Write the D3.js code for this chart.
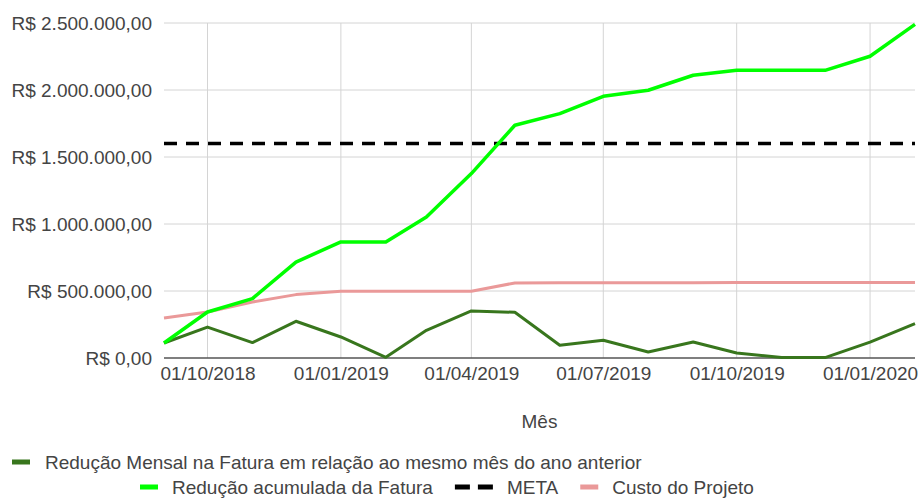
<!DOCTYPE html>
<html>
<head>
<meta charset="utf-8">
<script src="https://cdn.jsdelivr.net/npm/d3@7"></script>
<style>
  body { margin: 0; background: #fff; }
  svg { font-family: "Liberation Sans", Arial, sans-serif; }
</style>
</head>
<body>
<div id="chart"></div>
<script>
var months = ["2018-09-01", "2018-10-01", "2018-11-01", "2018-12-01", "2019-01-01", "2019-02-01",
              "2019-03-01", "2019-04-01", "2019-05-01", "2019-06-01", "2019-07-01", "2019-08-01",
              "2019-09-01", "2019-10-01", "2019-11-01", "2019-12-01", "2020-01-01", "2020-02-01"];
var mensal = [112000, 231000, 115000, 274000, 157000, 5000, 207000, 351000, 341000, 95000,
              132000, 45000, 119000, 37000, 3000, 3000, 119000, 257000];
var acumulada = [112000, 343000, 443000, 716000, 866000, 866000, 1052000, 1376000, 1737000, 1824000,
                 1953000, 1998000, 2110000, 2147000, 2147000, 2147000, 2252000, 2490000];
var meta = 1600000;
var custo = [298000, 343000, 418000, 473000, 498000, 498000, 498000, 498000, 560000, 561000,
             561000, 562000, 562000, 563000, 563000, 563000, 563000, 563000];
var yTicks = [0, 500000, 1000000, 1500000, 2000000, 2500000];
var xTicks = ["2018-10-01", "2019-01-01", "2019-04-01", "2019-07-01", "2019-10-01", "2020-01-01"];
var seriesNames = ["Redução Mensal na Fatura em relação ao mesmo mês do ano anterior",
                   "Redução acumulada da Fatura", "META", "Custo do Projeto"];
var colors = ["#38761d", "#00ff00", "#000000", "#ea9999"];

var W = 918, H = 499;
var margin = { top: 23, right: 3, bottom: 141, left: 164 };
var fontSize = "19px";

var parse = d3.timeParse("%Y-%m-%d");
var dates = months.map(parse);

var br = d3.formatLocale({ decimal: ",", thousands: ".", grouping: [3], currency: ["R$ ", ""] });
var money = br.format("$,.2f");

var svg = d3.select("#chart").append("svg").attr("width", W).attr("height", H);

var x = d3.scaleTime().domain(d3.extent(dates)).range([margin.left, W - margin.right]);
var y = d3.scaleLinear().domain([0, 2500000]).range([H - margin.bottom, margin.top]);

// grid
svg.append("g").attr("class", "grid")
  .selectAll("line.h").data(yTicks.slice(1)).enter().append("line")
  .attr("x1", margin.left).attr("x2", W - margin.right)
  .attr("y1", function (d) { return y(d); }).attr("y2", function (d) { return y(d); })
  .attr("stroke", "#d4d4d4").attr("stroke-width", 1);
svg.append("g").attr("class", "grid")
  .selectAll("line.v").data(xTicks.map(parse)).enter().append("line")
  .attr("x1", function (d) { return x(d); }).attr("x2", function (d) { return x(d); })
  .attr("y1", margin.top).attr("y2", H - margin.bottom)
  .attr("stroke", "#d4d4d4").attr("stroke-width", 1);

// axes
var yAxis = d3.axisLeft(y).tickValues(yTicks).tickFormat(money).tickSize(0).tickPadding(12);
svg.append("g").attr("transform", "translate(" + margin.left + ",0)").call(yAxis)
  .call(function (g) { g.select(".domain").remove(); })
  .selectAll("text").attr("font-size", fontSize).attr("fill", "#444").attr("font-family", "Liberation Sans, Arial, sans-serif");

var xAxis = d3.axisBottom(x).tickValues(xTicks.map(parse)).tickFormat(d3.timeFormat("%d/%m/%Y")).tickSize(0).tickPadding(9);
svg.append("g").attr("transform", "translate(0," + (H - margin.bottom) + ")").call(xAxis)
  .call(function (g) { g.select(".domain").remove(); })
  .selectAll("text").attr("font-size", fontSize).attr("fill", "#444").attr("font-family", "Liberation Sans, Arial, sans-serif");

svg.append("line")
  .attr("x1", margin.left).attr("x2", W - margin.right)
  .attr("y1", y(0)).attr("y2", y(0))
  .attr("stroke", "#555").attr("stroke-width", 1.5);

svg.append("text").text("Mês")
  .attr("x", (margin.left + W - margin.right) / 2).attr("y", 428)
  .attr("text-anchor", "middle").attr("font-size", fontSize).attr("fill", "#444");

// lines
var line = d3.line()
  .x(function (d) { return x(d.date); })
  .y(function (d) { return y(d.value); });

function toPts(arr) {
  return arr.map(function (v, i) { return { date: dates[i], value: v }; });
}

svg.append("path").datum(toPts(custo)).attr("d", line)
  .attr("fill", "none").attr("stroke", colors[3]).attr("stroke-width", 3).attr("stroke-linejoin", "round");

svg.append("path").datum(toPts(months.map(function () { return meta; }))).attr("d", line)
  .attr("fill", "none").attr("stroke", colors[2]).attr("stroke-width", 3.5).attr("stroke-dasharray", "13,9");

svg.append("path").datum(toPts(mensal)).attr("d", line)
  .attr("fill", "none").attr("stroke", colors[0]).attr("stroke-width", 3).attr("stroke-linejoin", "round");

svg.append("path").datum(toPts(acumulada)).attr("d", line)
  .attr("fill", "none").attr("stroke", colors[1]).attr("stroke-width", 3.5).attr("stroke-linejoin", "round");

// legend
var legend = svg.append("g").attr("font-size", fontSize).attr("fill", "#444");

function swatch(g, xPos, yPos, i) {
  if (i === 2) {
    g.append("rect").attr("x", xPos).attr("y", yPos - 2.5).attr("width", 15).attr("height", 5).attr("fill", colors[i]);
    g.append("rect").attr("x", xPos + 23).attr("y", yPos - 2.5).attr("width", 15).attr("height", 5).attr("fill", colors[i]);
    return 38;
  }
  g.append("rect").attr("x", xPos).attr("y", yPos - 2.5).attr("width", 18).attr("height", 5).attr("fill", colors[i]);
  return 18;
}

// row 1
var r1 = 462;
swatch(legend, 12, r1, 0);
legend.append("text").text(seriesNames[0]).attr("x", 45).attr("y", r1 + 7);

// row 2
var r2 = 487;
var xPos = 140;
[1, 2, 3].forEach(function (i) {
  var sw = swatch(legend, xPos, r2, i);
  var t = legend.append("text").text(seriesNames[i]).attr("x", xPos + sw + 14).attr("y", r2 + 7);
  xPos = xPos + sw + 14 + t.node().getComputedTextLength() + 22;
});
</script>
</body>
</html>
